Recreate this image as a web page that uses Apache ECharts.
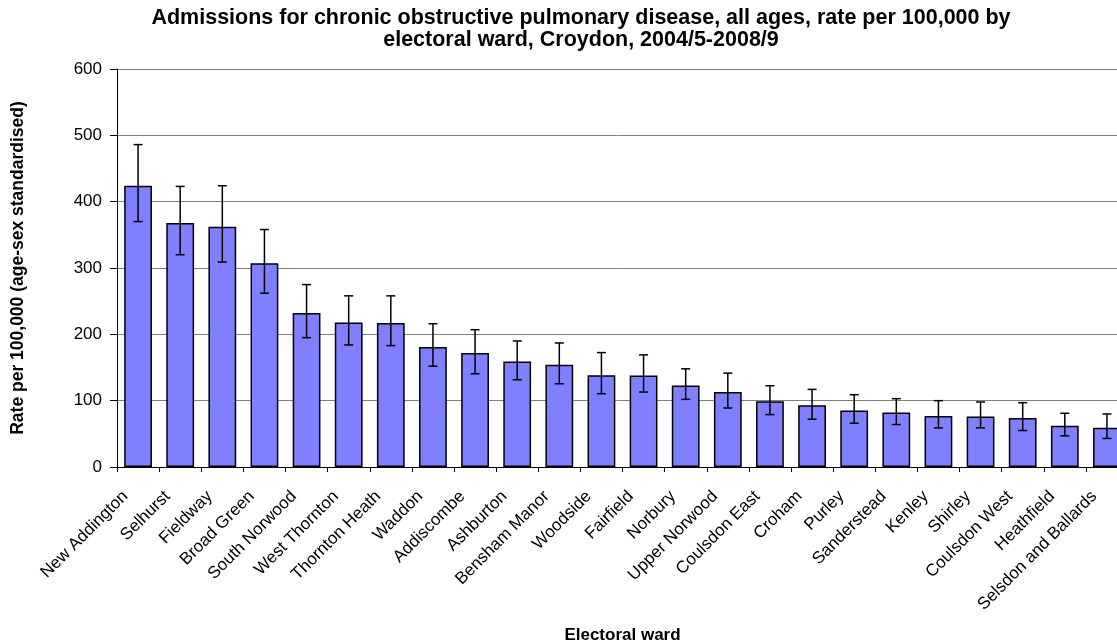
<!DOCTYPE html>
<html>
<head>
<meta charset="utf-8">
<script src="https://cdn.jsdelivr.net/npm/echarts@6/dist/echarts.min.js"></script>
<style>
  html, body { margin: 0; padding: 0; background: #fff; }
  #main { width: 1117px; height: 644px; }
</style>
</head>
<body>
<div id="main"></div>
<script>
var wards = ['New Addington', 'Selhurst', 'Fieldway', 'Broad Green', 'South Norwood', 'West Thornton',
  'Thornton Heath', 'Waddon', 'Addiscombe', 'Ashburton', 'Bensham Manor', 'Woodside', 'Fairfield',
  'Norbury', 'Upper Norwood', 'Coulsdon East', 'Croham', 'Purley', 'Sanderstead', 'Kenley', 'Shirley',
  'Coulsdon West', 'Heathfield', 'Selsdon and Ballards'];

var rate = [424, 368, 362, 307, 232, 218, 217, 181, 172, 159, 154, 138.5, 138, 123, 113, 99, 93, 85, 82, 77, 76, 74, 62, 59];

var upperCI = [486, 423, 424, 358, 275, 258, 258, 216, 207, 190, 187, 172.5, 169, 148, 141.5, 122.5, 117, 109, 103, 100, 98, 97, 81, 80];

var lowerCI = [370, 320, 309, 262, 195, 184, 183, 152, 140.5, 131.5, 125.5, 110.5, 113, 102, 89, 79, 72, 66, 64, 59, 59, 55, 47, 43];

var yTicks = [0, 100, 200, 300, 400, 500, 600];

var errData = wards.map(function (w, i) {
    return [i, lowerCI[i], upperCI[i]];
});

var myChart = echarts.init(document.getElementById('main'));

var font = 'Liberation Sans, Arial, sans-serif';

option = {
    animation: false,
    title: {
        text: 'Admissions for chronic obstructive pulmonary disease, all ages, rate per 100,000 by\nelectoral ward, Croydon, 2004/5-2008/9',
        left: 576,
        top: 2,
        textAlign: 'center',
        textStyle: {
            fontFamily: font,
            fontWeight: 'bold',
            fontSize: 21.5,
            lineHeight: 22,
            color: '#000'
        }
    },
    grid: {
        left: 117,
        top: 69,
        right: -11,
        bottom: 177,
        outerBoundsMode: 'none'
    },
    xAxis: {
        type: 'category',
        data: wards,
        name: 'Electoral ward',
        nameLocation: 'middle',
        nameGap: 160,
        nameTextStyle: { fontFamily: font, fontWeight: 'bold', fontSize: 17, color: '#000' },
        axisLine: { lineStyle: { color: '#000', width: 1 } },
        axisTick: { show: true, length: 5, lineStyle: { color: '#000' } },
        axisLabel: {
            interval: 0,
            rotate: 45,
            margin: 14,
            padding: [0, 18, 0, 0],
            fontFamily: font,
            fontSize: 17,
            color: '#000'
        },
        splitLine: { show: false }
    },
    yAxis: {
        type: 'value',
        min: 0,
        max: 600,
        interval: 100,
        name: 'Rate per 100,000 (age-sex standardised)',
        nameLocation: 'middle',
        nameGap: 90,
        nameTextStyle: { fontFamily: font, fontWeight: 'bold', fontSize: 17.5, color: '#000' },
        axisLine: { show: true, lineStyle: { color: '#000', width: 1 } },
        axisTick: { show: true, length: 7, lineStyle: { color: '#000' } },
        axisLabel: {
            margin: 15,
            fontFamily: font,
            fontSize: 17,
            color: '#000',
            formatter: function (v) { return yTicks.indexOf(v) >= 0 ? String(v) : ''; }
        },
        splitLine: { show: true, lineStyle: { color: '#808080', width: 1 } }
    },
    series: [{
        name: 'Rate',
        type: 'bar',
        data: rate,
        barCategoryGap: '34%',
        itemStyle: {
            color: '#8080ff',
            borderColor: '#000',
            borderWidth: 1.5
        },
        z: 2
    }, {
        name: 'CI',
        type: 'custom',
        data: errData,
        z: 3,
        renderItem: function (params, api) {
            var x = api.value(0);
            var lo = api.coord([x, api.value(1)]);
            var hi = api.coord([x, api.value(2)]);
            var cap = 4.5;
            var st = { stroke: '#000', lineWidth: 1.5 };
            return {
                type: 'group',
                children: [
                    { type: 'line', shape: { x1: hi[0], y1: hi[1], x2: lo[0], y2: lo[1] }, style: st },
                    { type: 'line', shape: { x1: hi[0] - cap, y1: hi[1], x2: hi[0] + cap, y2: hi[1] }, style: st },
                    { type: 'line', shape: { x1: lo[0] - cap, y1: lo[1], x2: lo[0] + cap, y2: lo[1] }, style: st }
                ]
            };
        }
    }]
};

myChart.setOption(option);
</script>
</body>
</html>
